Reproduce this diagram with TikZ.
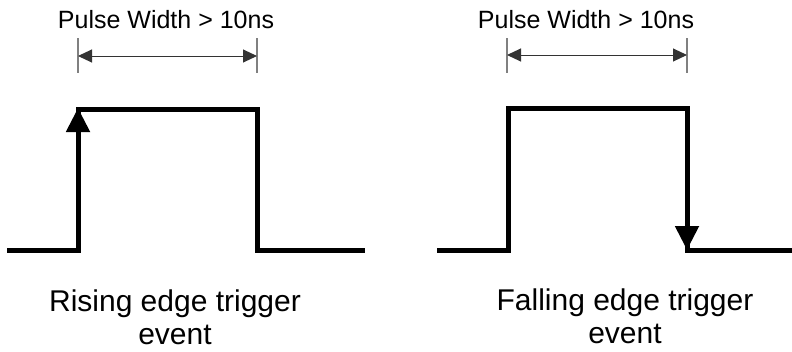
\documentclass[tikz,border=0pt]{standalone}
\usepackage{fontspec}
\setmainfont{Liberation Sans}
\usetikzlibrary{arrows.meta}
\tikzset{
  pulse/.style={line width=5pt, line join=miter},
  edgearrow/.style={-{Triangle[length=24pt,width=23pt]}, line width=5pt},
  dimline/.style={{Triangle[length=14pt,width=13pt]}-{Triangle[length=14pt,width=13pt]}, line width=1pt, black!80},
  dimtick/.style={line width=1.2pt, black!50},
  widthlabel/.style={anchor=base, inner sep=0pt, font=\fontsize{25}{30}\selectfont},
  eventlabel/.style={anchor=base, inner sep=0pt, align=center, font=\fontsize{30}{33}\selectfont},
}
\begin{document}
\begin{tikzpicture}[x=1pt,y=-1pt]
\useasboundingbox (0,0) rectangle (792,351);
% xung suon len
\coordinate (r0) at (7,250);
\coordinate (r1) at (78,250);
\coordinate (r2) at (78,109);
\coordinate (r3) at (257,109);
\coordinate (r4) at (257,250);
\coordinate (r5) at (365,250);
\coordinate (rtip) at (78,108);
\draw[pulse] (r0)--(r1)--(r2)--(r3)--(r4)--(r5);
\draw[edgearrow] (r1)--(rtip);
% xung suon xuong
\coordinate (f0) at (437,250);
\coordinate (f1) at (508,250);
\coordinate (f2) at (508,108);
\coordinate (f3) at (687,108);
\coordinate (f4) at (687,250);
\coordinate (f5) at (792,250);
\coordinate (ftip) at (687,250);
\draw[pulse] (f0)--(f1)--(f2)--(f3)--(f4)--(f5);
\draw[edgearrow] (f3)--(ftip);
% do rong xung
\foreach \x in {78,257,507,687}
\draw[dimtick] (\x,38)--(\x,73);
\coordinate (la) at (78,56);
\coordinate (lb) at (257,56);
\coordinate (fa) at (507,55);
\coordinate (fb) at (687,55);
\draw[dimline] (la)--(lb);
\draw[dimline] (fa)--(fb);
\node[widthlabel] (lwidth) at (166,28) {Pulse Width > 10ns};
\node[widthlabel] (fwidth) at (586,28) {Pulse Width > 10ns};
% chu thich
\node[eventlabel] (levent) at (175,344) {Rising edge trigger\\event};
\node[eventlabel] (fevent) at (625,343) {Falling edge trigger\\event};
\end{tikzpicture}
\end{document}
